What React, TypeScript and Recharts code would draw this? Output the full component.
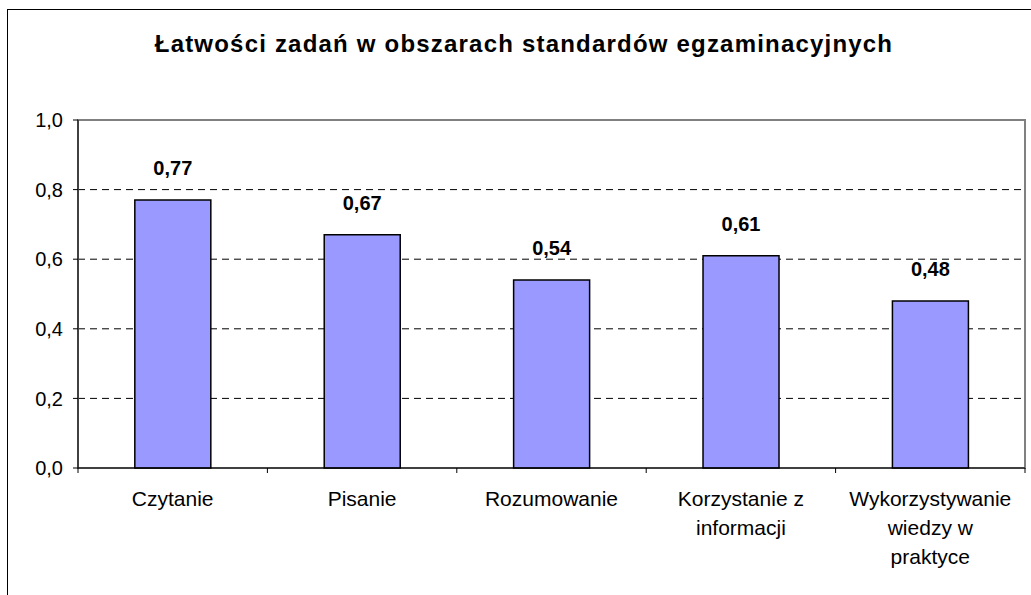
import React from 'react'
import { BarChart, Bar, XAxis, YAxis, CartesianGrid, ReferenceArea, LabelList } from 'recharts'

const title = 'Łatwości zadań w obszarach standardów egzaminacyjnych'

const categories = [
  'Czytanie',
  'Pisanie',
  'Rozumowanie',
  'Korzystanie z informacji',
  'Wykorzystywanie wiedzy w praktyce',
]

// how the category names wrap under the axis
const categoryLines = [
  ['Czytanie'],
  ['Pisanie'],
  ['Rozumowanie'],
  ['Korzystanie z', 'informacji'],
  ['Wykorzystywanie', 'wiedzy w', 'praktyce'],
]

const values = [0.77, 0.67, 0.54, 0.61, 0.48]

const yTicks = [0, 0.2, 0.4, 0.6, 0.8, 1]

const FONT = '"Liberation Sans", Arial, sans-serif'
const W = 1023
const H = 585
const PLOT_LEFT = 70
const PLOT_RIGHT = 1017

const data = categories.map((name, i) => ({ name, lines: categoryLines[i], value: values[i] }))

const fmt = (v: number, d: number) => v.toFixed(d).replace('.', ',')

function CategoryTick(props: any) {
  const { x, y, payload, index } = props
  const half = payload?.offset ?? (PLOT_RIGHT - PLOT_LEFT) / categories.length / 2
  const lines = categoryLines[index] ?? [payload.value]
  return (
    <g>
      <line x1={x - half} y1={y} x2={x - half} y2={y + 5} stroke="#000" strokeWidth={1} />
      {index === categories.length - 1 && (
        <line x1={x + half} y1={y} x2={x + half} y2={y + 5} stroke="#000" strokeWidth={1} />
      )}
      <text x={x} y={y + 38} textAnchor="middle" fontFamily={FONT} fontSize={21} fill="#000">
        {lines.map((l: string, i: number) => (
          <tspan key={i} x={x} dy={i === 0 ? 0 : 29}>
            {l}
          </tspan>
        ))}
      </text>
    </g>
  )
}

function ValueLabel(props: any) {
  const { x, y, width, value } = props
  return (
    <text
      x={Number(x) + Number(width) / 2}
      y={Number(y) - 25}
      textAnchor="middle"
      fontFamily={FONT}
      fontSize={20}
      fontWeight="bold"
      fill="#000"
    >
      {fmt(Number(value), 2)}
    </text>
  )
}

export default function App() {
  return (
    <div
      style={{
        position: 'absolute',
        left: 7,
        top: 9,
        width: W,
        height: H,
        borderLeft: '1px solid #000',
        borderTop: '1px solid #000',
        background: '#fff',
      }}
    >
      <svg width={W} height={60} style={{ position: 'absolute', left: 0, top: 0 }}>
        <text
          x={516}
          y={42}
          textAnchor="middle"
          fontFamily={FONT}
          fontSize={24}
          fontWeight="bold"
          letterSpacing={1.2}
          fill="#000"
        >
          {title}
        </text>
      </svg>
      <div style={{ position: 'absolute', left: 0, top: 0 }}>
        <BarChart
          width={W}
          height={H}
          data={data}
          margin={{ top: 110, right: W - PLOT_RIGHT, bottom: 97, left: 0 }}
          barCategoryGap="30%"
        >
          <CartesianGrid vertical={false} stroke="#000" strokeDasharray="7 5" />
          <ReferenceArea y1={0} y2={1} fill="none" stroke="#808080" strokeWidth={2} ifOverflow="visible" />
          <XAxis
            dataKey="name"
            height={30}
            interval={0}
            tickLine={false}
            tickSize={0}
            tickMargin={0}
            axisLine={{ stroke: '#000', strokeWidth: 1 }}
            tick={<CategoryTick />}
          />
          <YAxis
            width={PLOT_LEFT}
            domain={[0, 1]}
            ticks={yTicks}
            interval={0}
            tickSize={5}
            tickMargin={10}
            tickFormatter={(v: number) => fmt(v, 1)}
            tick={{ fontFamily: FONT, fontSize: 20, fill: '#000' }}
            tickLine={{ stroke: '#000' }}
            axisLine={{ stroke: '#000', strokeWidth: 1 }}
          />
          <Bar dataKey="value" fill="#9999FF" stroke="#000" strokeWidth={1.5} isAnimationActive={false}>
            <LabelList dataKey="value" content={<ValueLabel />} />
          </Bar>
        </BarChart>
      </div>
    </div>
  )
}
